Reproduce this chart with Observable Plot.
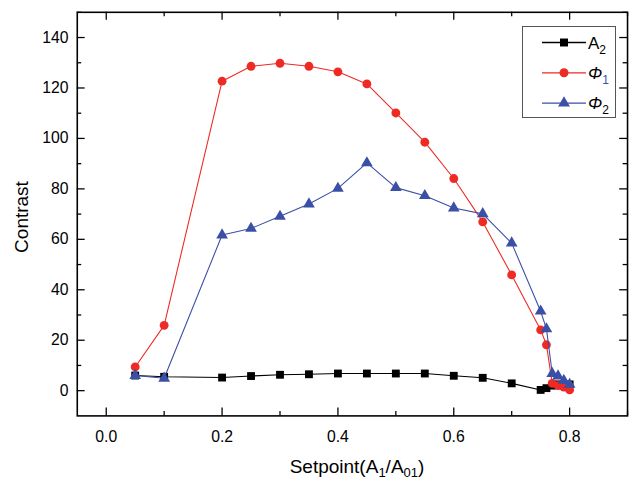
<!DOCTYPE html>
<html>
<head>
<meta charset="utf-8">
<script src="https://cdn.jsdelivr.net/npm/d3@7"></script>
<script src="https://cdn.jsdelivr.net/npm/@observablehq/plot@0.6"></script>
<style>
  body { margin: 0; background: #fff; overflow: hidden; }
  #wrap { position: relative; width: 630px; height: 486px; overflow: hidden; font-family: Arial, "Liberation Sans", sans-serif; }
  #wrap svg.plot { max-width: none; }
  .ylab { position: absolute; left: 22px; top: 217px; transform: translate(-50%, -50%) rotate(-90deg); font-size: 19px; color: #000; white-space: nowrap; }
  .xlab { position: absolute; left: 357px; top: 456px; transform: translateX(-50%); font-size: 19px; color: #000; white-space: nowrap; }
  .xlab sub { font-size: 13px; vertical-align: -4px; }
  #legend { position: absolute; left: 522px; top: 26px; }
</style>
</head>
<body>
<div id="wrap">
  <div class="ylab">Contrast</div>
  <div class="xlab">Setpoint(A<sub>1</sub>/A<sub>01</sub>)</div>
</div>
<script>
// Setpoint values (A1/A01) shared by all three series
const setpoint = [0.05, 0.1, 0.2, 0.25, 0.3, 0.35, 0.4, 0.45, 0.5, 0.55, 0.6, 0.65, 0.7, 0.75, 0.76, 0.77, 0.78, 0.79, 0.8];
// Contrast of the amplitude A2
const a2 = [6.0, 5.5, 5.2, 5.8, 6.3, 6.5, 6.8, 6.8, 6.8, 6.8, 5.9, 5.1, 2.9, 0.3, 1.0, 2.0, 2.5, 2.0, 2.5];
// Contrast of the phase Φ1
const phi1 = [9.4, 25.9, 122.7, 128.6, 129.8, 128.6, 126.4, 121.6, 110.1, 98.5, 84.1, 66.9, 45.9, 24.1, 18.2, 2.9, 2.0, 1.4, 0.3];
// Contrast of the phase Φ2
const phi2 = [6.0, 4.9, 61.7, 64.3, 69.1, 74.0, 80.2, 90.3, 80.5, 77.3, 72.4, 70.1, 58.5, 31.5, 24.5, 6.8, 5.8, 4.0, 2.5];

// Axis ticks
const xMajor = [0, 0.2, 0.4, 0.6, 0.8];
const xMinor = [0.1, 0.3, 0.5, 0.7, 0.9];
const yMajor = [0, 20, 40, 60, 80, 100, 120, 140];
const yMinor = [10, 30, 50, 70, 90, 110, 130, 150];

// Series definitions: name parts for the legend, colour, symbol
const seriesNames = [["A", "2"], ["Φ", "1"], ["Φ", "2"]];
const seriesColors = ["#000000", "#ee2a24", "#3a4fa6"];
const seriesSymbols = ["square", "circle", "triangle"];
const seriesValues = [a2, phi1, phi2];

const rows = seriesValues.flatMap((vals, s) =>
  vals.map((v, i) => ({series: s, x: setpoint[i], y: v}))
);

const W = 640, H = 486;
const mL = 78, mR = 3, mT = 12, mB = 64;
const innerW = W - mL - mR, innerH = H - mT - mB;
const major = 8, minor = 4.5;

const seriesMarks = [0, 1, 2].flatMap(s => {
  const d = rows.filter(r => r.series === s);
  return [
    Plot.line(d, {x: "x", y: "y", stroke: seriesColors[s], strokeWidth: 1.1}),
    Plot.dot(d, {x: "x", y: "y", symbol: () => seriesSymbols[s], fill: seriesColors[s], stroke: "none",
                 r: s === 2 ? 4.4 : 4.5})
  ];
});

const chart = Plot.plot({
  width: W, height: H,
  marginLeft: mL, marginRight: mR, marginTop: mT, marginBottom: mB,
  style: {fontFamily: "Arial, 'Liberation Sans', sans-serif", fontSize: "16px", color: "#000", background: "transparent"},
  x: {domain: [-0.05, 0.9]},
  y: {domain: [-10, 150]},
  symbol: {type: "identity"},
  marks: [
    Plot.axisX({ticks: xMajor, tickSize: 0, tickPadding: 15, tickFormat: d3.format(".1f"), label: null, fontSize: 16}),
    Plot.axisY({ticks: yMajor, tickSize: 0, tickPadding: 9, tickFormat: d3.format("d"), label: null, fontSize: 16}),
    // inward ticks on all four sides
    Plot.tickX(xMajor, {x: d => d, insetTop: innerH - major, stroke: "#000", strokeWidth: 1.3}),
    Plot.tickX(xMinor, {x: d => d, insetTop: innerH - minor, stroke: "#000", strokeWidth: 1.3}),
    Plot.tickX(xMajor, {x: d => d, insetBottom: innerH - major, stroke: "#000", strokeWidth: 1.3}),
    Plot.tickX(xMinor, {x: d => d, insetBottom: innerH - minor, stroke: "#000", strokeWidth: 1.3}),
    Plot.tickY(yMajor, {y: d => d, insetRight: innerW - major, stroke: "#000", strokeWidth: 1.3}),
    Plot.tickY(yMinor, {y: d => d, insetRight: innerW - minor, stroke: "#000", strokeWidth: 1.3}),
    Plot.tickY(yMajor, {y: d => d, insetLeft: innerW - major, stroke: "#000", strokeWidth: 1.3}),
    Plot.tickY(yMinor, {y: d => d, insetLeft: innerW - minor, stroke: "#000", strokeWidth: 1.3}),
    ...seriesMarks,
    Plot.frame({stroke: "#000", strokeWidth: 1.6})
  ]
});

const wrap = document.getElementById("wrap");
wrap.insertBefore(chart, wrap.firstChild);

// Legend box drawn with d3 using the same colours and symbols
const lw = 94, lh = 92;
const leg = d3.select(wrap).append("svg")
  .attr("id", "legend").attr("width", lw).attr("height", lh)
  .style("font-family", "Arial, 'Liberation Sans', sans-serif");
leg.append("rect").attr("x", 0.5).attr("y", 0.5).attr("width", lw - 1).attr("height", lh - 1)
  .attr("fill", "#fff").attr("stroke", "#555").attr("stroke-width", 1);
const symMap = {square: d3.symbolSquare, circle: d3.symbolCircle, triangle: d3.symbolTriangle};
seriesNames.forEach((nm, s) => {
  const cy = 16.5 + s * 30.3;
  const g = leg.append("g");
  g.append("line").attr("x1", 20).attr("x2", 64).attr("y1", cy).attr("y2", cy)
    .attr("stroke", seriesColors[s]).attr("stroke-width", 1.3);
  const r = s === 2 ? 4.4 : 4.5;
  g.append("path").attr("transform", `translate(42,${cy})`)
    .attr("d", d3.symbol(symMap[seriesSymbols[s]], Math.PI * r * r)())
    .attr("fill", seriesColors[s]);
  const t = g.append("text").attr("x", 66).attr("y", cy + 6).attr("font-size", 17).attr("fill", "#000");
  t.append("tspan").text(nm[0]).attr("font-style", s === 0 ? "normal" : "italic");
  t.append("tspan").text(nm[1]).attr("font-size", 12).attr("dy", 5)
    .attr("fill", s === 1 ? "#3a4fa6" : "#000");
});
</script>
</body>
</html>
